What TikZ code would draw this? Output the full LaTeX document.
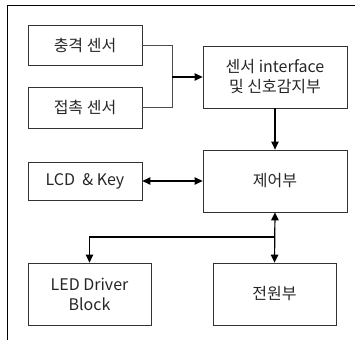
\documentclass[tikz,border=0pt]{standalone}
\usepackage{fontspec}
\setmainfont{Noto Sans CJK KR}
\usetikzlibrary{arrows.meta}
\begin{document}
\begin{tikzpicture}[x=1pt,y=-1pt,
  blk/.style={draw=black!80,line width=0.8pt,minimum width=#1,inner sep=0pt,align=center,text=black!85,font=\fontsize{16}{20}\selectfont},
  conn/.style={draw=black!70,line width=0.8pt},
  arr/.style={draw=black,line width=1.2pt,-{Triangle[length=8pt,width=7.5pt]}},
  darr/.style={draw=black,line width=1.2pt,{Triangle[length=8pt,width=7.5pt]}-{Triangle[length=8pt,width=7.5pt]}}]
\useasboundingbox (0,0) rectangle (362,340);
\draw[line width=1pt] (355,5) -- (7,5) -- (7,340);
\node[blk=114pt,minimum height=40pt] (s1) at (85,45) {충격 센서};
\node[blk=114pt,minimum height=41pt] (s2) at (85,107.5) {접촉 센서};
\node[blk=144pt,minimum height=62pt] (if) at (275,77) {센서 interface\\및 신호감지부};
\node[blk=144pt,minimum height=62pt] (ct) at (275,181) {제어부};
\node[blk=114pt,minimum height=38pt] (lcd) at (85,181) {LCD \ \& Key};
\node[blk=123pt,minimum height=62pt] (led) at (89.5,294) {LED Driver\\Block};
\node[blk=123pt,minimum height=62pt] (pw) at (274.5,294) {전원부};
\coordinate (j1) at (172,77);
\coordinate (j2) at (275,237);
\draw[conn] (s1.east) -| (j1);
\draw[conn] (s2.east) -| (j1);
\draw[arr] (j1) -- (if.west);
\draw[arr] (if.south) -- (ct.north);
\draw[darr] (lcd.east) -- (ct.west);
\draw[darr] (ct.south) -- (pw.north);
\draw[arr] (j2) -| (led.north);
\end{tikzpicture}
\end{document}
